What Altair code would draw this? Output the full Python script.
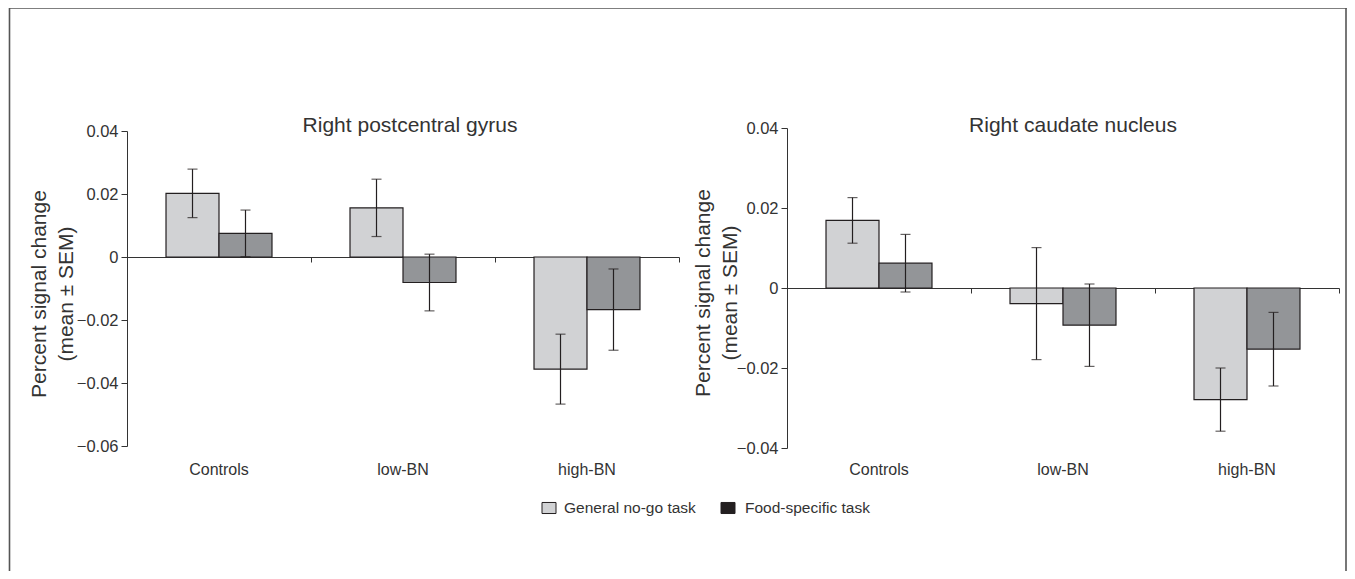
import altair as alt
import pandas as pd

# ---------------- data ----------------
groups = ["Controls", "low-BN", "high-BN"]
tasks = ["General no-go task", "Food-specific task"]
panel_titles = ["Right postcentral gyrus", "Right caudate nucleus"]
y_title = ["Percent signal change", "(mean \u00b1 SEM)"]

# Right postcentral gyrus
gyrus_general_mean = [0.0202, 0.0156, -0.0356]
gyrus_general_sem = [0.0077, 0.0091, 0.0111]
gyrus_food_mean = [0.0075, -0.0081, -0.0167]
gyrus_food_sem = [0.0074, 0.0090, 0.0129]
gyrus_ticks = [-0.06, -0.04, -0.02, 0, 0.02, 0.04]

# Right caudate nucleus
caudate_general_mean = [0.0169, -0.0039, -0.0279]
caudate_general_sem = [0.0057, 0.0140, 0.0079]
caudate_food_mean = [0.0062, -0.0093, -0.0153]
caudate_food_sem = [0.0072, 0.0103, 0.0092]
caudate_ticks = [-0.04, -0.02, 0, 0.02, 0.04]

bar_colors = ["#d1d2d4", "#939598"]
legend_colors = ["#d1d2d4", "#231f20"]

# ---------------- style ----------------
W, H = 1337, 561
FONT = "Liberation Sans"
TXT = "#333333"
EDGE = "#231f20"
AX = "#333333"
FRAME = "#555555"


def panel_df(gm, gs, fm, fs):
    rows = []
    for i, g in enumerate(groups):
        rows.append(dict(group=g, task=tasks[0], mean=gm[i], lo=gm[i] - gs[i], hi=gm[i] + gs[i]))
        rows.append(dict(group=g, task=tasks[1], mean=fm[i], lo=fm[i] - fs[i], hi=fm[i] + fs[i]))
    return pd.DataFrame(rows)


def panel(df, ydomain, yrange, yticks, xrange, zero_y, title_x, title_y):
    xs = alt.Scale(domain=groups, range=xrange, paddingInner=0.424, paddingOuter=0.212)
    ys = alt.Scale(domain=ydomain, range=yrange, nice=False)
    xo = alt.XOffset("task:N", scale=alt.Scale(domain=tasks), sort=tasks)
    fill = alt.Fill("task:N", scale=alt.Scale(domain=tasks, range=bar_colors), legend=None)
    base = alt.Chart(df)

    x_axis = alt.Axis(orient="bottom", offset=-(H - 452), domain=False, ticks=False,
                      labelPadding=0, labelAngle=0, title=None, grid=False,
                      labelFontSize=16, labelColor=TXT, labelBaseline="top")
    y_axis = alt.Axis(
        orient="left", offset=-xrange[0], values=yticks,
        labelExpr="datum.value === 0 ? '0' : format(datum.value, '.2f')",
        tickSize=6, labelPadding=3, grid=False, domainColor=AX, tickColor=AX,
        labelFontSize=16.5, labelColor=TXT,
        title=y_title, titleX=title_x, titleY=title_y, titleBaseline="middle",
        titleAlign="center", titleAngle=270, titleFontSize=21, titleFontWeight="normal",
        titleColor=TXT, titleLineHeight=27.5,
    )

    def xenc():
        return alt.X("group:N", scale=xs, sort=groups, axis=x_axis)

    def yenc(field):
        return alt.Y(field, scale=ys, axis=y_axis)

    bars = base.mark_bar(stroke=EDGE, strokeWidth=1.2).encode(
        x=xenc(), xOffset=xo, y=yenc("mean:Q"), y2=alt.datum(0), fill=fill,
    )
    errs = base.mark_rule(color=EDGE, strokeWidth=1.2).encode(
        x=xenc(), xOffset=xo, y=yenc("lo:Q"), y2="hi:Q",
    )
    cap_lo = base.mark_tick(color=EDGE, thickness=1.2, size=10).encode(
        x=xenc(), xOffset=xo, y=yenc("lo:Q")
    )
    cap_hi = base.mark_tick(color=EDGE, thickness=1.2, size=10).encode(
        x=xenc(), xOffset=xo, y=yenc("hi:Q")
    )
    main = alt.layer(bars, errs, cap_lo, cap_hi)

    zero = alt.Chart(pd.DataFrame({"a": [0]})).mark_rule(opacity=0).encode(
        x=alt.X(
            datum=0, type="quantitative",
            scale=alt.Scale(domain=[0, 3], range=xrange, nice=False, zero=False),
            axis=alt.Axis(orient="bottom", offset=-(H - zero_y), values=[1, 2, 3],
                          labels=False, ticks=True, tickSize=5, domain=True,
                          domainColor=AX, tickColor=AX, grid=False, title=None),
        ),
        x2=alt.datum(3),
    )
    return alt.layer(main, zero).resolve_scale(x="independent")


left = panel(
    panel_df(gyrus_general_mean, gyrus_general_sem, gyrus_food_mean, gyrus_food_sem),
    [-0.06, 0.04], [437, 122], gyrus_ticks, [118, 670], 248, -88, 284.5,
)
right = panel(
    panel_df(caudate_general_mean, caudate_general_sem, caudate_food_mean, caudate_food_sem),
    [-0.04, 0.04], [439, 119], caudate_ticks, [778, 1330], 279, -84, 283.5,
)


def text_layer(txt, x, y, size, align):
    return alt.Chart(pd.DataFrame({"t": [txt]})).mark_text(
        fontSize=size, color=TXT, align=align, baseline="alphabetic", font=FONT
    ).encode(text="t:N", x=alt.value(x), y=alt.value(y))


title_l = text_layer(panel_titles[0], 401, 123, 21, "center")
title_r = text_layer(panel_titles[1], 1064, 123, 21, "center")

rect_shape = "M-1,-0.79L1,-0.79L1,0.79L-1,0.79Z"


def legend_symbol(i, x, y):
    return alt.Chart(pd.DataFrame({"t": [tasks[i]]})).mark_point(
        shape=rect_shape, size=196, filled=True, fill=legend_colors[i], stroke=EDGE,
        strokeWidth=1, opacity=1,
    ).encode(x=alt.value(x), y=alt.value(y))


leg1 = legend_symbol(0, 540, 499)
leg2 = legend_symbol(1, 719, 499)
legt1 = text_layer(tasks[0], 555, 504, 15.5, "left")
legt2 = text_layer(tasks[1], 736, 504, 15.5, "left")

# figure frame (open at the bottom, where the original figure is cut off)
frame_df = pd.DataFrame({"a": [0]})
frame_left = alt.Chart(frame_df).mark_rule(color=FRAME, strokeWidth=1.6).encode(
    x=alt.value(0.5), y=alt.value(-1.5), y2=alt.value(H + 2)
)
frame_right = alt.Chart(frame_df).mark_rule(color=FRAME, strokeWidth=1.6).encode(
    x=alt.value(W), y=alt.value(-1.5), y2=alt.value(H + 2)
)
frame_top = alt.Chart(frame_df).mark_rule(color=FRAME, strokeWidth=1.6).encode(
    x=alt.value(0), x2=alt.value(W + 0.8), y=alt.value(-1)
)

chart = (
    alt.layer(left, right, title_l, title_r, leg1, leg2, legt1, legt2,
              frame_left, frame_right, frame_top)
    .resolve_scale(x="independent", y="independent", xOffset="independent")
    .properties(
        width=W, height=H,
        autosize=alt.AutoSizeParams(type="none"),
        padding={"left": 1, "top": 1, "right": 1, "bottom": 1},
        background="white",
    )
    .configure_view(stroke=None)
    .configure_axis(labelFont=FONT, titleFont=FONT, domainWidth=1, tickWidth=1)
    .configure_text(font=FONT)
)

chart.save("out.html", embed_options={"renderer": "svg", "actions": False})
